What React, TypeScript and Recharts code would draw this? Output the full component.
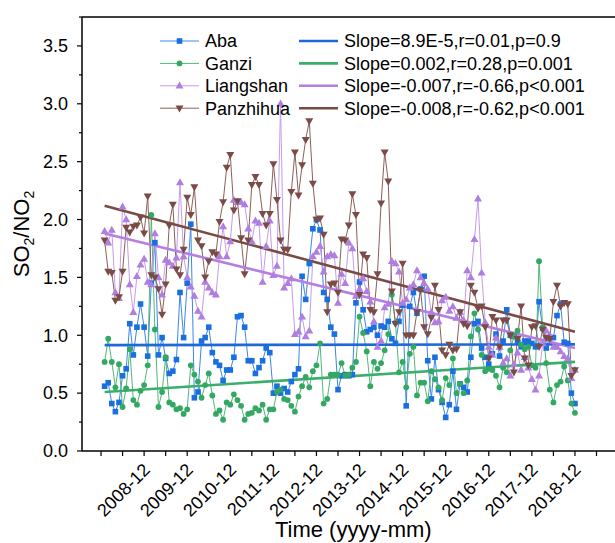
import React from 'react';
import { LineChart, Line, XAxis, YAxis, ReferenceLine, Legend, Label } from 'recharts';

const FONT = '"Liberation Sans", Arial, Helvetica, sans-serif';

// monthly SO2/NO2 ratio, 2008-01 .. 2018-12 (one row per year)
const aba = [
  0.56, 0.59, 0.41, 0.34, 0.42, 0.65, 0.71, 1.10, 0.83, 1.07, 1.27, 1.07,
  0.82, 1.45, 1.80, 0.83, 0.98, 0.80, 0.67, 0.69, 0.79, 1.37, 0.98, 1.45,
  1.96, 0.46, 0.51, 0.95, 0.98, 1.07, 0.85, 0.77, 0.74, 0.61, 0.70, 0.70,
  0.81, 1.16, 1.17, 1.07, 0.78, 0.78, 0.67, 0.72, 0.78, 0.89, 0.85, 0.50,
  0.56, 0.50, 0.54, 0.51, 0.60, 0.66, 0.71, 1.51, 1.31, 1.62, 1.92, 2.00,
  1.91, 1.37, 1.31, 1.07, 1.01, 0.53, 0.65, 0.66, 0.65, 0.66, 1.28, 1.46,
  1.22, 1.03, 1.05, 1.07, 1.00, 1.08, 1.07, 1.12, 0.97, 0.93, 1.12, 1.26,
  0.39, 1.25, 1.37, 1.19, 1.40, 1.51, 0.78, 0.45, 0.81, 0.53, 0.42, 0.29,
  0.40, 0.69, 0.36, 0.58, 0.55, 0.51, 0.81, 1.10, 1.12, 0.89, 0.81, 0.75,
  0.84, 1.01, 0.82, 0.95, 1.22, 1.00, 0.99, 0.95, 0.90, 0.95, 0.95, 0.93,
  0.90, 1.29, 1.06, 0.89, 0.98, 0.98, 1.17, 1.27, 0.94, 0.93, 0.50, 0.41,
];

const ganzi = [
  0.77, 0.97, 0.77, 0.55, 0.75, 0.38, 0.54, 0.88, 0.44, 0.40, 0.52, 0.57,
  0.74, 2.04, 1.05, 0.38, 0.51, 0.81, 0.42, 0.40, 0.36, 0.37, 0.32, 0.36,
  0.74, 0.66, 0.60, 0.46, 0.57, 0.67, 0.48, 0.32, 0.35, 0.27, 0.42, 0.40,
  0.49, 0.44, 0.39, 0.27, 0.32, 0.33, 0.37, 0.35, 0.40, 0.27, 0.36, 0.36,
  0.51, 0.53, 0.45, 0.44, 0.39, 0.34, 0.47, 0.56, 0.64, 0.55, 0.69, 0.74,
  0.93, 0.41, 0.45, 0.66, 0.66, 0.66, 0.76, 0.65, 0.66, 0.72, 0.77, 1.16,
  1.02, 0.86, 0.56, 0.77, 0.71, 0.76, 0.87, 1.01, 1.35, 1.11, 0.68, 0.77,
  0.55, 0.84, 0.90, 0.48, 0.59, 0.59, 0.43, 0.69, 0.62, 0.55, 0.44, 0.63,
  0.57, 0.80, 0.50, 0.58, 0.50, 0.61, 0.99, 1.19, 1.05, 0.83, 0.69, 0.71,
  0.70, 0.65, 0.55, 0.72, 0.68, 0.87, 0.99, 1.04, 0.92, 0.88, 0.90, 0.74,
  0.72, 1.64, 1.07, 0.76, 0.53, 0.42, 0.57, 0.60, 0.73, 0.61, 0.41, 0.33,
];

const liangshan = [
  1.90, 1.80, 1.91, 1.37, 1.32, 2.11, 2.00, 1.44, 1.20, 1.51, 1.61, 1.66,
  1.46, 1.44, 1.88, 1.50, 1.35, 1.65, 1.63, 1.60, 1.67, 2.32, 1.68, 1.50,
  1.42, 1.34, 1.21, 1.16, 1.46, 1.41, 1.37, 1.35, 1.68, 1.94, 1.68, 1.81,
  2.17, 2.15, 2.15, 2.13, 1.92, 1.81, 1.99, 1.97, 1.46, 1.77, 1.99, 1.52,
  1.60, 3.00, 1.41, 1.45, 1.49, 1.01, 1.03, 1.16, 0.99, 1.04, 1.68, 1.72,
  1.77, 1.55, 1.68, 1.70, 1.69, 1.28, 1.53, 1.45, 1.80, 1.75, 1.34, 1.40,
  1.49, 1.38, 1.29, 1.12, 0.90, 0.95, 1.24, 1.27, 1.64, 1.62, 1.55, 1.28,
  1.31, 1.41, 1.44, 1.56, 1.50, 1.45, 1.40, 1.20, 1.11, 1.12, 1.30, 1.33,
  1.21, 1.25, 1.15, 1.20, 1.13, 1.56, 1.50, 1.83, 2.18, 1.54, 1.11, 0.90,
  0.83, 0.98, 0.90, 0.76, 0.80, 0.65, 0.75, 0.85, 0.70, 0.81, 0.72, 0.62,
  0.53, 0.65, 0.93, 1.04, 1.00, 0.90, 0.90, 0.86, 0.82, 0.80, 0.63, 0.70,
];

const panzhihua = [
  1.82, 1.55, 1.54, 1.30, 1.33, 1.55, 1.93, 1.89, 1.94, 1.95, 2.02, 1.88,
  2.20, 1.52, 1.50, 1.40, 1.18, 1.44, 1.95, 2.13, 1.57, 1.52, 1.74, 2.19,
  2.04, 2.28, 1.82, 1.77, 1.50, 1.64, 1.72, 1.70, 1.98, 2.15, 2.45, 2.56,
  2.08, 2.16, 1.84, 1.53, 1.82, 2.30, 2.37, 2.30, 2.05, 1.95, 2.05, 2.48,
  2.17, 1.82, 1.74, 1.74, 2.24, 2.58, 2.21, 2.47, 2.69, 2.85, 2.31, 2.00,
  2.01, 1.87, 1.20, 1.44, 1.45, 1.37, 1.83, 1.82, 1.95, 2.22, 2.04, 1.35,
  1.70, 1.67, 1.22, 1.20, 1.53, 2.14, 2.58, 2.33, 1.38, 1.10, 1.20, 1.62,
  1.00, 1.00, 1.00, 1.20, 1.39, 1.07, 1.01, 1.15, 1.43, 1.22, 0.87, 0.83,
  0.92, 0.87, 0.88, 1.20, 1.10, 1.08, 1.43, 1.37, 1.23, 1.25, 1.07, 0.80,
  1.16, 1.13, 0.90, 1.13, 1.13, 1.00, 0.68, 0.97, 1.25, 0.80, 0.74, 1.07,
  1.08, 0.90, 1.05, 0.98, 0.97, 1.29, 1.43, 1.25, 1.28, 1.27, 0.65, 0.70,
];

// linear fit end points (first and last month)
const trendStart = [0.915, 0.51, 1.88, 2.12];
const trendEnd = [0.921, 0.77, 0.89, 1.03];

const names = ['Aba', 'Ganzi', 'Liangshan', 'Panzhihua'];
const keys = ['aba', 'ganzi', 'liangshan', 'panzhihua'];
const slopeLabels = [
  'Slope=8.9E-5,r=0.01,p=0.9',
  'Slope=0.002,r=0.28,p=0.001',
  'Slope=-0.007,r=-0.66,p<0.001',
  'Slope=-0.008,r=-0.62,p<0.001',
];

// month index counted from 2008-01
const xTicks = [-1, 5, 11, 17, 23, 29, 35, 41, 47, 53, 59, 65, 71, 77, 83, 89, 95, 101, 107, 113, 119, 125, 131, 137];
const labelMonths = [11, 23, 35, 47, 59, 71, 83, 95, 107, 119, 131];
const tickLabels = ['2008-12', '2009-12', '2010-12', '2011-12', '2012-12', '2013-12', '2014-12', '2015-12', '2016-12', '2017-12', '2018-12'];
const yTicks = [0, 0.25, 0.5, 0.75, 1, 1.25, 1.5, 1.75, 2, 2.25, 2.5, 2.75, 3, 3.25, 3.5, 3.75];
const yMajor = [0.5, 1, 1.5, 2, 2.5, 3, 3.5];

const markerColors = ['#1a6fe0', '#33a862', '#b07de0', '#7a4b47'];
const lineColors = ['#3d86e8', '#4fb878', '#c59ceb', '#8a5f5a'];
const trendColors = ['#1f68d8', '#3aae6a', '#b57fe2', '#7a4a44'];

const data = aba.map((v, i) => ({
  t: i,
  aba: v,
  ganzi: ganzi[i],
  liangshan: liangshan[i],
  panzhihua: panzhihua[i],
}));

const Marker = ({ kind, cx, cy }: any) => {
  const c = markerColors[kind];
  if (kind === 0) return <rect x={cx - 2.8} y={cy - 2.8} width={5.6} height={5.6} fill={c} />;
  if (kind === 1) return <circle cx={cx} cy={cy} r={2.9} fill={c} />;
  if (kind === 2)
    return <polygon points={`${cx},${cy - 4.2} ${cx - 4},${cy + 2.8} ${cx + 4},${cy + 2.8}`} fill={c} />;
  return <polygon points={`${cx},${cy + 4.2} ${cx - 4},${cy - 2.8} ${cx + 4},${cy - 2.8}`} fill={c} />;
};

const makeDot = (kind: number) => (p: any) => {
  if (p.cx == null || p.cy == null) return <g key={`d${kind}-${p.index}`} />;
  return (
    <g key={`d${kind}-${p.index}`}>
      <Marker kind={kind} cx={p.cx} cy={p.cy} />
    </g>
  );
};

const XTick = (props: any) => {
  const { x, y, payload } = props;
  const i = labelMonths.indexOf(payload.value);
  if (i < 0) return <g />;
  return (
    <text
      x={0}
      y={0}
      transform={`translate(${x + 7},${y + 13}) rotate(-45)`}
      textAnchor="end"
      fontSize={18}
      fontFamily={FONT}
      fill="#000"
    >
      {tickLabels[i]}
    </text>
  );
};

const YTick = (props: any) => {
  const { x, y, payload } = props;
  const left = x + 5 + 9;
  const major = payload.value === 0 || yMajor.includes(payload.value);
  return (
    <g>
      <line x1={left - (major ? 5 : 3)} x2={left} y1={y} y2={y} stroke="#000" strokeWidth={1.2} />
      {major && (
        <text x={x} y={y} dy="0.35em" textAnchor="end" fontSize={18} fontFamily={FONT} fill="#000">
          {payload.value.toFixed(1)}
        </text>
      )}
    </g>
  );
};

const YTitle = (props: any) => {
  const vb = props.viewBox || { x: 0, y: 17, width: 82, height: 434 };
  const cy = vb.y + vb.height / 2;
  return (
    <text
      transform={`translate(${vb.x + 29},${cy}) rotate(-90)`}
      textAnchor="middle"
      fontSize={22}
      fontFamily={FONT}
      fill="#000"
    >
      SO<tspan dy={5} fontSize={14}>2</tspan>
      <tspan dy={-5}>/NO</tspan>
      <tspan dy={5} fontSize={14}>2</tspan>
    </text>
  );
};

const LegendBox = () => (
  <svg width={450} height={100} style={{ overflow: 'visible', display: 'block' }}>
    {names.map((n, i) => {
      const y = 13 + i * 22.4;
      return (
        <g key={n} fontFamily={FONT} fontSize={18} fill="#000">
          <line x1={5} x2={44} y1={y} y2={y} stroke={lineColors[i]} strokeWidth={1} />
          <Marker kind={i} cx={24.5} cy={y} />
          <text x={50} y={y} dy="0.35em">{n}</text>
          <line x1={144} x2={183} y1={y} y2={y} stroke={trendColors[i]} strokeWidth={2.6} />
          <text x={189} y={y} dy="0.35em">{slopeLabels[i]}</text>
        </g>
      );
    })}
  </svg>
);

const App: React.FC = () => {
  return (
    <div
      style={{
        position: 'absolute',
        left: 0,
        top: 0,
        width: 615,
        height: 543,
        overflow: 'hidden',
        background: '#fff',
      }}
    >
      <LineChart
        width={640}
        height={543}
        data={data}
        margin={{ top: 17, right: 23.4, bottom: 0, left: 0 }}
        style={{ fontFamily: FONT }}
      >
        <XAxis
          dataKey="t"
          type="number"
          domain={[-6.3, 142.6]}
          allowDataOverflow
          ticks={xTicks}
          interval={0}
          height={92}
          tickSize={5}
          tickMargin={2}
          axisLine={{ stroke: '#000', strokeWidth: 1.5 }}
          tickLine={{ stroke: '#000', strokeWidth: 1.2 }}
          tick={<XTick />}
        >
          <Label value="Time (yyyy-mm)" position="insideBottom" offset={6} dx={4} fontSize={22} fill="#000" />
        </XAxis>
        <XAxis
          xAxisId="top"
          orientation="top"
          mirror
          type="number"
          domain={[-6.3, 142.6]}
          allowDataOverflow
          ticks={xTicks}
          interval={0}
          tick={false}
          tickSize={5}
          axisLine={{ stroke: '#000', strokeWidth: 1.5 }}
          tickLine={{ stroke: '#000', strokeWidth: 1.2 }}
        />
        <YAxis
          type="number"
          domain={[0, 3.75]}
          allowDataOverflow
          ticks={yTicks}
          interval={0}
          width={82}
          tickSize={5}
          tickMargin={9}
          tickLine={false}
          axisLine={{ stroke: '#000', strokeWidth: 1.5 }}
          tick={<YTick />}
        >
          <Label content={<YTitle />} />
        </YAxis>
        <YAxis
          yAxisId="right"
          orientation="right"
          mirror
          type="number"
          domain={[0, 3.75]}
          allowDataOverflow
          ticks={yMajor}
          interval={0}
          tick={false}
          tickSize={5}
          axisLine={{ stroke: '#000', strokeWidth: 1.5 }}
          tickLine={{ stroke: '#000', strokeWidth: 1.2 }}
        />
        <Legend
          layout="vertical"
          align="center"
          verticalAlign="middle"
          wrapperStyle={{ left: 155, top: 28, width: 450, height: 100 }}
          content={<LegendBox />}
        />
        {keys.map((k, i) => (
          <Line
            key={k}
            type="linear"
            dataKey={k}
            name={names[i]}
            stroke={lineColors[i]}
            strokeWidth={1}
            dot={makeDot(i)}
            activeDot={false}
            isAnimationActive={false}
          />
        ))}
        {keys.map((k, i) => (
          <ReferenceLine
            key={`fit-${k}`}
            segment={[
              { x: data[0].t, y: trendStart[i] },
              { x: data[data.length - 1].t, y: trendEnd[i] },
            ]}
            stroke={trendColors[i]}
            strokeWidth={2.6}
          />
        ))}
      </LineChart>
    </div>
  );
};

export default App;
